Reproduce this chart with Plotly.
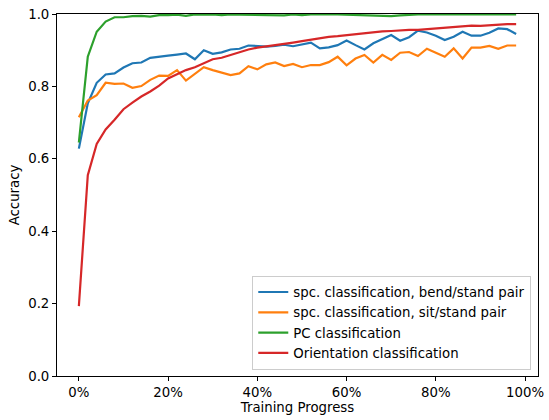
import plotly.graph_objects as go

# Training progress fraction (50 evaluation checkpoints)
progress = [i / 50 for i in range(50)]

bend_stand = [0.628, 0.753, 0.810, 0.833, 0.836, 0.852, 0.864, 0.866, 0.879, 0.883,
              0.885, 0.888, 0.891, 0.875, 0.900, 0.890, 0.894, 0.902, 0.904, 0.913,
              0.912, 0.910, 0.912, 0.915, 0.911, 0.916, 0.921, 0.905, 0.908, 0.914,
              0.927, 0.914, 0.902, 0.919, 0.931, 0.942, 0.926, 0.936, 0.954, 0.949,
              0.940, 0.928, 0.937, 0.951, 0.940, 0.940, 0.948, 0.960, 0.958, 0.945]

sit_stand = [0.715, 0.761, 0.776, 0.810, 0.807, 0.808, 0.796, 0.801, 0.818, 0.830,
             0.829, 0.845, 0.816, 0.834, 0.853, 0.845, 0.838, 0.831, 0.836, 0.856,
             0.847, 0.861, 0.866, 0.856, 0.862, 0.853, 0.859, 0.859, 0.867, 0.882,
             0.858, 0.877, 0.887, 0.866, 0.887, 0.873, 0.893, 0.895, 0.884, 0.904,
             0.893, 0.882, 0.905, 0.877, 0.907, 0.907, 0.912, 0.904, 0.913, 0.913]

pc_cls = [0.645, 0.882, 0.951, 0.979, 0.991, 0.991, 0.994, 0.995, 0.993, 0.997,
          0.997, 0.998, 0.995, 0.999, 0.998, 0.999, 0.997, 0.999, 0.998, 0.998,
          0.997, 0.997, 0.998, 0.996, 0.999, 0.997, 0.999, 0.998, 0.999, 0.999,
          0.998, 0.999, 0.998, 0.997, 0.995, 0.994, 0.996, 0.998, 0.999, 0.999,
          0.998, 0.999, 0.999, 0.999, 0.998, 0.999, 0.999, 0.999, 0.999, 0.999]

orientation = [0.193, 0.555, 0.641, 0.681, 0.708, 0.737, 0.755, 0.772, 0.786, 0.802,
               0.822, 0.834, 0.845, 0.853, 0.864, 0.875, 0.879, 0.887, 0.896, 0.902,
               0.907, 0.910, 0.913, 0.917, 0.921, 0.925, 0.929, 0.934, 0.937, 0.939,
               0.942, 0.945, 0.948, 0.950, 0.952, 0.953, 0.955, 0.956, 0.956, 0.958,
               0.962, 0.962, 0.965, 0.966, 0.968, 0.967, 0.969, 0.970, 0.972, 0.972]

x_ticks = [0, 0.2, 0.4, 0.6, 0.8, 1.0]
x_tick_labels = ["0%", "20%", "40%", "60%", "80%", "100%"]
y_ticks = [0.0, 0.2, 0.4, 0.6, 0.8, 1.0]
y_tick_labels = ["0.0", "0.2", "0.4", "0.6", "0.8", "1.0"]

series = [
    ("spc. classification, bend/stand pair", bend_stand, "#1f77b4"),
    ("spc. classification, sit/stand pair", sit_stand, "#ff7f0e"),
    ("PC classification", pc_cls, "#2ca02c"),
    ("Orientation classification", orientation, "#d62728"),
]

FS = 13.3

fig = go.Figure()
for name, vals, color in series:
    fig.add_trace(go.Scatter(x=progress, y=vals, mode="lines", name=name,
                             line=dict(color=color, width=2.2)))

axis_common = dict(showline=True, linecolor="black", linewidth=1, mirror=True,
                   ticks="outside", ticklen=4, tickcolor="black", showgrid=False,
                   zeroline=False, tickfont=dict(size=FS, color="black"),
                   ticklabeloverflow="allow")

fig.update_layout(
    width=549, height=420,
    margin=dict(l=57, r=5, t=14, b=44),
    paper_bgcolor="white", plot_bgcolor="white",
    font=dict(family="DejaVu Sans", size=FS, color="black"),
    xaxis=dict(range=[-0.049, 1.029], tickvals=x_ticks, ticktext=x_tick_labels,
               title=dict(text="Training Progress", font=dict(size=FS), standoff=3),
               **axis_common),
    yaxis=dict(range=[0, 1], tickvals=y_ticks, ticktext=y_tick_labels,
               title=dict(text="Accuracy", font=dict(size=FS), standoff=5),
               **axis_common),
    legend=dict(x=0.986, y=0.017, xanchor="right", yanchor="bottom",
                bgcolor="rgba(255,255,255,0.8)", bordercolor="#cccccc", borderwidth=1,
                font=dict(size=FS), itemwidth=30, tracegroupgap=0),
    showlegend=True,
)

fig.write_html("out.html")
